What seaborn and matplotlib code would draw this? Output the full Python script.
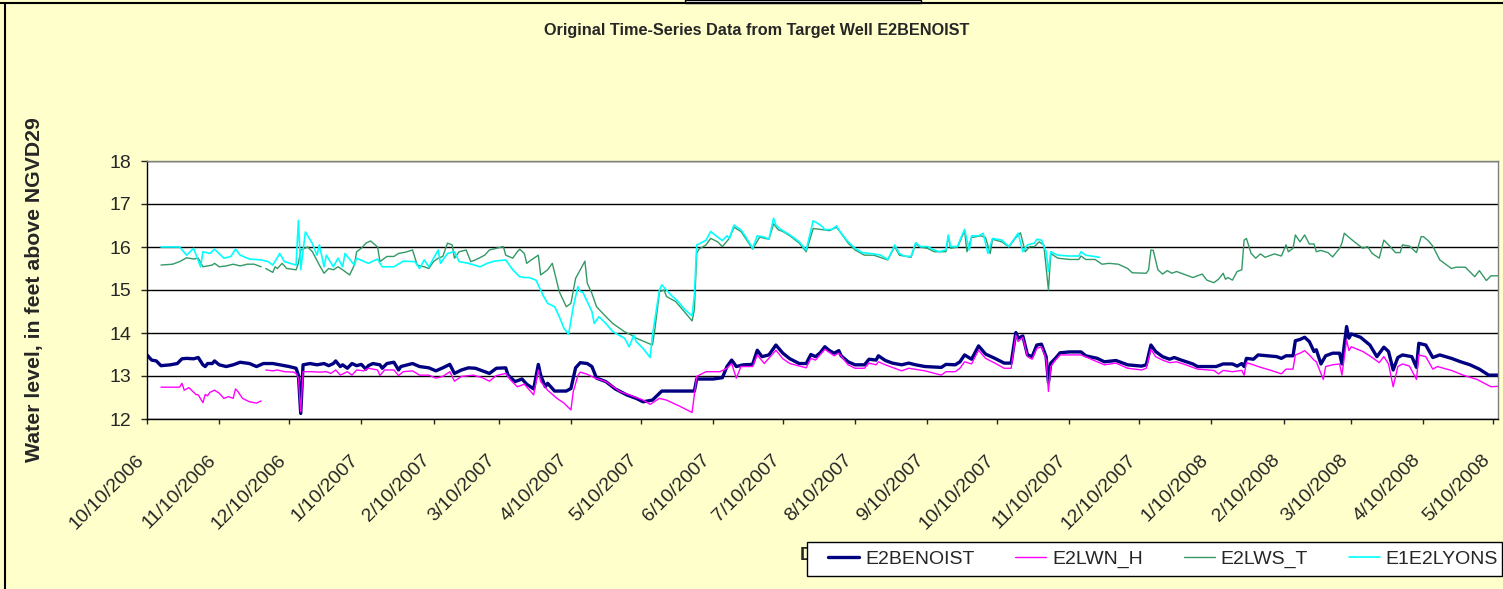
import pandas as pd
import matplotlib
matplotlib.use('Agg')
import matplotlib.pyplot as plt
from matplotlib.lines import Line2D
from matplotlib.patches import Rectangle
import seaborn as sns

# Water levels: days after 10/10/2006 and feet above NGVD29.
# A None level marks a gap in the record.
benoist_day = [0, 2, 4, 6, 10, 13, 15, 17, 20, 22, 24, 25, 26, 28, 29, 31, 34, 37, 40, 44,
               47, 50, 54, 57, 61, 64, 65, 66, 67, 70, 73, 76, 78, 80, 81, 83, 84, 86, 88, 90,
               92, 94, 95, 97, 100, 101, 103, 106, 108, 109, 114, 117, 121, 124, 127, 130, 132, 135, 138, 141,
               144, 147, 150, 154, 155, 158, 161, 163, 166, 168, 169, 171, 172, 175, 180, 182, 184, 186, 189, 191,
               193, 197, 201, 206, 210, 213, 217, 221, 235, 236, 243, 247, 249, 251, 253, 256, 260, 262, 264, 267,
               270, 273, 276, 280, 283, 285, 287, 289, 291, 293, 295, 297, 298, 301, 304, 308, 310, 313, 314, 317,
               320, 324, 327, 330, 334, 341, 343, 347, 349, 351, 354, 357, 360, 364, 368, 371, 373, 374, 376, 378,
               380, 382, 384, 386, 387, 388, 390, 392, 396, 401, 403, 408, 411, 416, 421, 427, 429, 431, 433, 436,
               439, 441, 444, 449, 451, 459, 462, 466, 468, 470, 471, 472, 475, 477, 481, 485, 487, 489, 492, 493,
               495, 497, 499, 501, 502, 504, 506, 509, 512, 513, 515, 516, 517, 521, 525, 528, 531, 533, 535, 537,
               539, 543, 545, 546, 549, 552, 555, 560, 564, 568, 572, 576, 580]
benoist_level = [13.49, 13.37, 13.35, 13.24, 13.26, 13.29, 13.40, 13.41, 13.40, 13.43, 13.26, 13.22, 13.29, 13.29, 13.35, 13.26, 13.22, 13.26, 13.32, 13.29,
                 13.22, 13.29, 13.29, 13.26, 13.22, 13.18, 13.02, 12.13, 13.26, 13.29, 13.26, 13.29, 13.24, 13.29, 13.35, 13.22, 13.26, 13.18, 13.29, 13.24,
                 13.27, 13.16, 13.24, 13.29, 13.26, 13.18, 13.29, 13.32, 13.14, 13.22, 13.29, 13.22, 13.19, 13.12, 13.19, 13.27, 13.06, 13.14, 13.19, 13.18,
                 13.12, 13.06, 13.18, 13.19, 13.02, 12.87, 12.93, 12.81, 12.70, 13.27, 13.02, 12.75, 12.83, 12.65, 12.65, 12.71, 13.19, 13.31, 13.29, 13.22,
                 12.95, 12.87, 12.70, 12.56, 12.48, 12.40, 12.44, 12.65, 12.65, 12.93, 12.93, 12.96, 13.22, 13.37, 13.22, 13.26, 13.27, 13.60, 13.45, 13.49,
                 13.72, 13.53, 13.40, 13.29, 13.29, 13.50, 13.45, 13.54, 13.68, 13.59, 13.53, 13.59, 13.47, 13.33, 13.26, 13.26, 13.39, 13.37, 13.47, 13.36,
                 13.30, 13.26, 13.30, 13.26, 13.22, 13.20, 13.27, 13.26, 13.33, 13.49, 13.39, 13.70, 13.51, 13.41, 13.30, 13.30, 14.01, 13.88, 13.93, 13.49,
                 13.45, 13.72, 13.74, 13.45, 12.85, 13.30, 13.41, 13.54, 13.56, 13.56, 13.47, 13.41, 13.33, 13.36, 13.26, 13.23, 13.26, 13.72, 13.57, 13.45,
                 13.39, 13.43, 13.37, 13.28, 13.22, 13.22, 13.28, 13.28, 13.23, 13.29, 13.22, 13.41, 13.39, 13.49, 13.47, 13.45, 13.41, 13.47, 13.47, 13.82,
                 13.85, 13.90, 13.80, 13.57, 13.61, 13.28, 13.47, 13.53, 13.53, 13.28, 14.15, 13.88, 13.98, 13.90, 13.72, 13.45, 13.67, 13.57, 13.14, 13.43,
                 13.49, 13.45, 13.20, 13.76, 13.72, 13.43, 13.49, 13.41, 13.33, 13.26, 13.16, 13.02, 13.02]

lwn_day = [6, 14, 15, 16, 18, 21, 22, 24, 25, 26, 27, 29, 31, 33, 35, 37, 38, 39, 41, 44,
           47, 49, 50, 51, 54, 56, 59, 63, 64, 65, 66, 67, 71, 74, 77, 79, 81, 83, 86, 88,
           90, 93, 95, 99, 100, 102, 106, 108, 110, 114, 117, 121, 124, 127, 130, 132, 135, 140, 144, 147,
           150, 154, 156, 159, 162, 166, 168, 169, 172, 176, 179, 182, 183, 185, 186, 189, 192, 197, 203, 209,
           213, 216, 220, 223, 229, 234, 236, 240, 246, 249, 251, 253, 255, 260, 262, 265, 270, 273, 276, 283,
           285, 287, 291, 295, 297, 301, 304, 308, 310, 313, 314, 317, 324, 327, 334, 341, 343, 347, 349, 351,
           354, 357, 360, 364, 368, 371, 373, 374, 376, 378, 380, 382, 384, 386, 387, 388, 390, 392, 401, 408,
           411, 416, 421, 427, 429, 431, 433, 436, 439, 442, 446, 451, 458, 460, 462, 466, 470, 471, 472, 475,
           477, 482, 487, 489, 492, 493, 495, 497, 499, 501, 502, 505, 506, 509, 512, 513, 515, 516, 517, 522,
           526, 529, 531, 533, 535, 537, 539, 542, 545, 546, 549, 552, 554, 560, 565, 571, 577, 580]
lwn_level = [12.74, 12.74, 12.83, 12.67, 12.73, 12.57, 12.56, 12.38, 12.57, 12.54, 12.62, 12.67, 12.60, 12.48, 12.52, 12.48, 12.70, 12.64, 12.48, 12.40,
             12.37, 12.42, None, 13.14, 13.12, 13.14, 13.10, 13.09, 13.06, 12.95, 12.17, 13.10, 13.10, 13.09, 13.10, 13.06, 13.14, 13.02, 13.10, 13.02,
             13.14, 13.12, 13.18, 13.14, 13.01, 13.14, 13.14, 13.01, 13.10, 13.12, 13.02, 13.02, 12.95, 12.99, 13.10, 12.88, 12.99, 13.02, 12.96, 12.88,
             13.01, 13.06, 12.91, 12.75, 12.81, 12.56, 13.14, 12.87, 12.67, 12.48, 12.37, 12.21, 12.64, 13.01, 13.09, 13.04, 12.96, 12.87, 12.64, 12.52,
             12.44, 12.34, 12.48, 12.44, 12.29, 12.15, 12.99, 13.10, 13.10, 13.18, 13.29, 12.95, 13.22, 13.22, 13.49, 13.29, 13.60, 13.40, 13.29, 13.19,
             13.41, 13.37, 13.62, 13.47, 13.53, 13.26, 13.18, 13.18, 13.30, 13.26, 13.33, 13.26, 13.12, 13.18, 13.12, 13.02, 13.10, 13.10, 13.18, 13.33,
             13.28, 13.60, 13.41, 13.30, 13.18, 13.18, 13.95, 13.80, 13.90, 13.45, 13.39, 13.64, 13.68, 13.39, 12.64, 13.22, 13.37, 13.49, 13.49, 13.33,
             13.26, 13.30, 13.18, 13.14, 13.18, 13.62, 13.45, 13.37, 13.31, 13.33, 13.26, 13.16, 13.13, 13.05, 13.13, 13.10, 13.13, 13.02, 13.31, 13.26,
             13.22, 13.14, 13.05, 13.16, 13.16, 13.49, 13.53, 13.59, 13.49, 13.37, 13.33, 12.92, 13.22, 13.26, 13.28, 13.02, 13.84, 13.59, 13.68, 13.57,
             13.43, 13.31, 13.45, 13.28, 12.75, 13.22, 13.28, 13.23, 12.92, 13.49, 13.45, 13.16, 13.22, 13.13, 13.02, 12.92, 12.75, 12.76]

lws_day = [6, 11, 14, 17, 20, 22, 24, 28, 29, 31, 34, 37, 40, 43, 46, 49, 50, 51, 54, 55,
           56, 58, 60, 64, 65, 66, 69, 71, 74, 76, 78, 80, 82, 84, 87, 89, 90, 92, 94, 96,
           99, 100, 103, 106, 108, 111, 114, 116, 119, 121, 123, 125, 127, 129, 131, 132, 134, 137, 139, 141,
           145, 147, 150, 153, 154, 157, 159, 160, 162, 163, 165, 168, 169, 172, 174, 177, 180, 182, 184, 186,
           188, 189, 191, 193, 197, 200, 205, 208, 210, 217, 218, 220, 222, 223, 227, 230, 234, 235, 236, 237,
           240, 242, 245, 247, 250, 252, 255, 257, 260, 263, 267, 269, 271, 273, 276, 280, 283, 286, 289, 293,
           296, 298, 301, 304, 308, 312, 318, 321, 323, 328, 330, 332, 335, 338, 343, 344, 345, 348, 351, 352,
           354, 358, 360, 362, 363, 367, 370, 373, 375, 377, 379, 381, 383, 385, 387, 388, 391, 396, 400, 401,
           403, 407, 410, 413, 417, 421, 423, 429, 430, 431, 432, 434, 436, 438, 440, 442, 445, 449, 453, 455,
           458, 460, 462, 463, 464, 466, 468, 470, 471, 472, 474, 476, 478, 480, 484, 487, 489, 490, 492, 493,
           495, 497, 499, 501, 502, 504, 507, 509, 512, 513, 514, 517, 520, 522, 524, 526, 529, 531, 533, 536,
           538, 539, 542, 545, 547, 548, 550, 552, 555, 560, 562, 566, 570, 572, 575, 577, 580]
lws_level = [15.58, 15.60, 15.66, 15.75, 15.72, 15.74, 15.54, 15.58, 15.62, 15.54, 15.56, 15.60, 15.56, 15.60, 15.60, 15.54, None, 15.50, 15.41, 15.54,
             15.50, 15.62, 15.50, 15.47, 15.62, 15.93, 16.00, 15.89, 15.58, 15.39, 15.50, 15.47, 15.54, 15.47, 15.35, 15.58, 15.89, 15.97, 16.09, 16.14,
             16.00, 15.66, 15.78, 15.78, 15.85, 15.88, 15.93, 15.58, 15.54, 15.50, 15.66, 15.74, 15.78, 16.09, 16.05, 15.74, 15.89, 15.93, 15.66, 15.70,
             15.81, 15.93, 15.97, 16.01, 15.81, 15.74, 15.89, 15.95, 15.85, 15.62, 15.70, 15.81, 15.35, 15.47, 15.62, 14.96, 14.61, 14.69, 15.27, 15.47,
             15.67, 15.16, 14.92, 14.61, 14.38, 14.22, 14.03, 13.95, 13.88, 13.72, 14.07, 14.96, 15.00, 14.85, 14.73, 14.54, 14.28, 14.54, 15.86, 15.95,
             16.05, 16.20, 16.12, 16.01, 16.20, 16.46, 16.36, 16.20, 15.95, 16.23, 16.18, 16.54, 16.40, 16.36, 16.26, 16.09, 15.89, 16.43, 16.41, 16.38,
             16.46, 16.32, 16.09, 15.93, 15.81, 15.81, 15.70, 16.01, 15.81, 15.76, 16.07, 16.00, 15.97, 15.89, 15.89, 16.24, 15.97, 16.00, 16.38, 15.89,
             16.22, 16.26, 16.22, 15.85, 16.18, 16.12, 16.00, 16.22, 16.33, 15.89, 16.01, 16.01, 16.12, 16.05, 15.00, 15.85, 15.74, 15.71, 15.71, 15.79,
             15.71, 15.71, 15.60, 15.62, 15.60, 15.50, 15.40, 15.39, 15.47, 15.93, 15.92, 15.47, 15.37, 15.45, 15.39, 15.43, 15.37, 15.29, 15.37, 15.23,
             15.17, 15.25, 15.39, 15.25, 15.29, 15.23, 15.43, 15.47, 16.16, 16.20, 15.85, 15.74, 15.84, 15.76, 15.84, 15.79, 16.05, 15.89, 15.97, 16.28,
             16.12, 16.28, 16.07, 16.07, 15.89, 15.92, 15.87, 15.77, 15.97, 16.09, 16.32, 16.18, 16.05, 15.97, 16.01, 15.85, 15.74, 16.16, 16.05, 15.87,
             15.87, 16.05, 16.02, 15.87, 16.24, 16.24, 16.15, 16.02, 15.70, 15.50, 15.53, 15.53, 15.31, 15.45, 15.22, 15.33, 15.33]

lyons_day = [6, 14, 17, 20, 23, 24, 27, 29, 33, 36, 38, 40, 44, 49, 52, 54, 57, 59, 64, 65,
             66, 68, 71, 73, 74, 76, 77, 80, 82, 84, 85, 89, 90, 95, 99, 101, 106, 110, 115, 117,
             119, 121, 125, 126, 129, 132, 134, 138, 143, 146, 149, 154, 157, 160, 162, 164, 167, 170, 172, 175,
             177, 179, 181, 183, 185, 186, 187, 189, 191, 192, 194, 197, 200, 205, 207, 209, 210, 213, 216, 217,
             220, 221, 223, 225, 228, 231, 234, 235, 236, 237, 240, 242, 245, 247, 249, 250, 252, 255, 257, 260,
             262, 265, 267, 269, 270, 272, 276, 280, 283, 286, 288, 290, 291, 294, 296, 298, 301, 304, 307, 312,
             315, 318, 319, 321, 323, 325, 328, 330, 332, 335, 338, 340, 343, 344, 345, 348, 349, 351, 353, 354,
             357, 359, 361, 363, 367, 370, 373, 374, 376, 378, 381, 382, 384, 386, 387, 388, 391, 396, 400, 401,
             403, 409]
lyons_level = [16.00, 16.00, 15.81, 15.97, 15.54, 15.89, 15.85, 15.95, 15.74, 15.78, 15.95, 15.81, 15.72, 15.70, 15.66, 15.58, 15.85, 15.66, 15.58, 16.62,
               15.47, 16.35, 16.08, 15.81, 16.05, 15.54, 15.81, 15.54, 15.74, 15.54, 15.85, 15.58, 15.74, 15.62, 15.72, 15.54, 15.54, 15.67, 15.66, 15.50,
               15.70, 15.54, 15.93, 15.62, 15.85, 15.89, 15.66, 15.62, 15.54, 15.62, 15.67, 15.70, 15.47, 15.31, 15.29, 15.29, 15.23, 14.88, 14.69, 14.61,
               14.38, 14.11, 13.97, 14.61, 15.08, 14.96, 14.96, 14.73, 14.50, 14.22, 14.38, 14.22, 14.03, 13.88, 13.68, 13.95, 13.80, 13.64, 13.43, 13.95,
               15.00, 15.12, 15.00, 14.88, 14.73, 14.54, 14.40, 14.88, 16.05, 16.07, 16.16, 16.36, 16.23, 16.15, 16.26, 16.20, 16.51, 16.40, 16.24, 15.97,
               16.26, 16.23, 16.18, 16.67, 16.51, 16.41, 16.28, 16.12, 15.93, 16.61, 16.55, 16.47, 16.40, 16.41, 16.49, 16.32, 16.12, 15.97, 15.87, 15.84,
               15.81, 15.71, 15.81, 16.05, 15.85, 15.79, 15.78, 16.10, 16.01, 16.01, 15.93, 15.89, 15.93, 16.28, 16.01, 16.01, 16.16, 16.41, 15.93, 16.26,
               16.26, 16.32, 15.85, 16.20, 16.16, 16.01, 16.24, 16.32, 15.89, 16.05, 16.09, 16.18, 16.16, 15.89, 15.43, 15.89, 15.81, 15.79, 15.79, 15.89,
               15.81, 15.76]

wells = ['E2BENOIST', 'E2LWN_H', 'E2LWS_T', 'E1E2LYONS']
well_colors = ['#000080', '#FF00FF', '#339966', '#00FFFF']
well_widths = [2.4, 1.0, 1.0, 1.2]
start_date = '10/10/2006'
tick_labels = ['10/10/2006', '11/10/2006', '12/10/2006', '1/10/2007', '2/10/2007', '3/10/2007',
               '4/10/2007', '5/10/2007', '6/10/2007', '7/10/2007', '8/10/2007', '9/10/2007',
               '10/10/2007', '11/10/2007', '12/10/2007', '1/10/2008', '2/10/2008', '3/10/2008',
               '4/10/2008', '5/10/2008']

# long table, one segment id per unbroken stretch of record
frames = []
for well, days, levels in zip(wells, [benoist_day, lwn_day, lws_day, lyons_day],
                              [benoist_level, lwn_level, lws_level, lyons_level]):
    df = pd.DataFrame({'day': days, 'level': levels})
    df['segment'] = df['level'].isna().cumsum()
    df = df.dropna()
    df['well'] = well
    frames.append(df)
data = pd.concat(frames, ignore_index=True)
data['level'] = data['level'].astype(float)
data['Date'] = pd.to_datetime(start_date) + pd.to_timedelta(data['day'], unit='D')

sns.set_style('white')
plt.rcParams['font.family'] = ['Liberation Sans', 'DejaVu Sans']

W, H = 1503, 589
fig = plt.figure(figsize=(W / 100, H / 100), dpi=100, facecolor='#FFFFCC')
ax = fig.add_axes([147 / W, 1 - 419 / H, (1498 - 147) / W, (419 - 161) / H])
ax.set_facecolor('white')

for well, color, lw in zip(wells, well_colors, well_widths):
    sns.lineplot(data=data[data['well'] == well], x='Date', y='level', units='segment',
                 estimator=None, sort=False, color=color, linewidth=lw, legend=False, ax=ax)

ax.set_ylim(12, 18)
ax.set_yticks(range(12, 19))
ax.set_xlim(pd.to_datetime(start_date), pd.Timestamp('2008-05-12'))
ax.set_xticks(pd.to_datetime(tick_labels, format='%m/%d/%Y'))
ax.set_xticklabels(tick_labels, rotation=45, ha='right')
ax.set_xlabel('')
ax.set_ylabel('')
ax.grid(axis='y', color='black', linewidth=1.0)
ax.grid(axis='x', visible=False)
ax.set_axisbelow(True)
ax.tick_params(axis='y', labelsize=14, length=4.3, width=1, pad=7, direction='out', left=True)
ax.tick_params(axis='x', labelsize=14, length=3.6, width=1, pad=20, direction='out', bottom=True)
for side in ['left', 'bottom']:
    ax.spines[side].set_color('black')
    ax.spines[side].set_linewidth(1.0)
for side in ['top', 'right']:
    ax.spines[side].set_color('#808080')
    ax.spines[side].set_linewidth(1.0)

fig.text(757 / W, 1 - 30 / H, 'Original Time-Series Data from Target Well E2BENOIST',
         ha='center', va='center', fontsize=11.7, fontweight='bold')
fig.text(35 / W, 1 - 290 / H, 'Water level, in feet above NGVD29', rotation=90,
         ha='center', va='center', fontsize=15.3, fontweight='bold')
fig.text(800 / W, 1 - 555 / H, 'Date', ha='left', va='center', fontsize=13,
         fontweight='bold', zorder=3)

# chart frame edges left over from the sheet
fig.add_artist(Line2D([0, 1], [1 - 3 / H] * 2, color='black', lw=1.5, transform=fig.transFigure))
fig.add_artist(Line2D([5 / W] * 2, [0, 1 - 3 / H], color='black', lw=1.5, transform=fig.transFigure))
fig.add_artist(Rectangle((685 / W, 1 - 3 / H), (921 - 685) / W, 3 / H, facecolor='white',
                         edgecolor='black', lw=1, transform=fig.transFigure))

# legend box
fig.add_artist(Rectangle((807 / W, 1 - 576 / H), (1502 - 807) / W, 34 / H, facecolor='white',
                         edgecolor='black', lw=1, transform=fig.transFigure, zorder=4))
handles = [Line2D([], [], color=c, lw=lw) for c, lw in zip(well_colors, well_widths)]
fig.legend(handles, wells, loc='center left', bbox_to_anchor=(828 / W, 1 - 559 / H), ncol=4,
           frameon=False, fontsize=14, handlelength=1.6, handletextpad=0.3, columnspacing=2.1,
           borderpad=0, borderaxespad=0)

fig.savefig('out.png', dpi=100, facecolor=fig.get_facecolor())
